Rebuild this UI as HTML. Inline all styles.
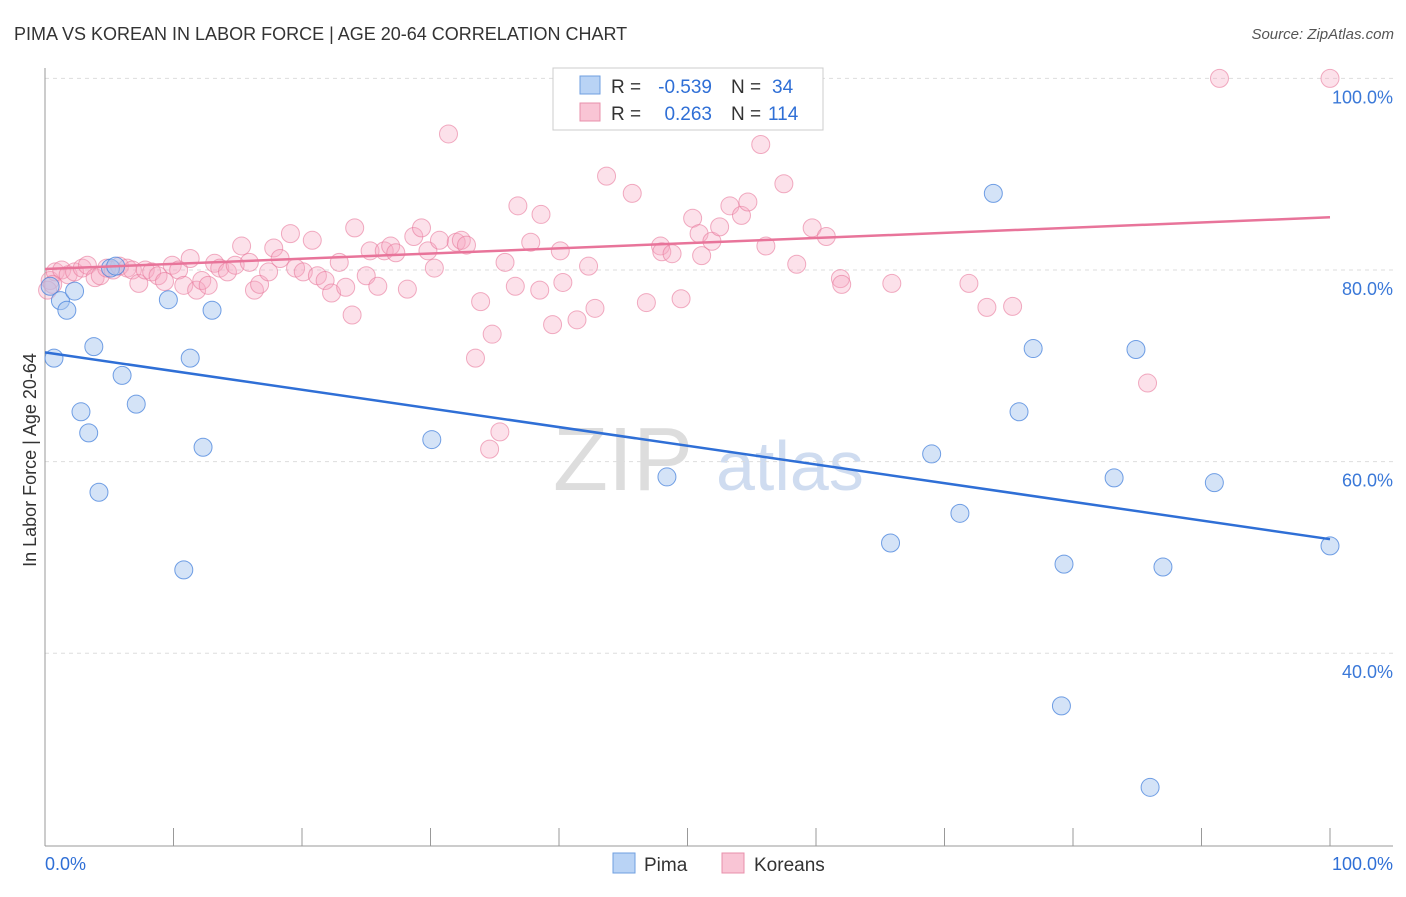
<!DOCTYPE html>
<html><head><meta charset="utf-8"><style>
body{margin:0;background:#fff;font-family:"Liberation Sans",sans-serif}
svg text{font-family:"Liberation Sans",sans-serif}
</style></head><body>
<svg id="c" width="1406" height="892">
<text x="14" y="40" font-size="18" fill="#333">PIMA VS KOREAN IN LABOR FORCE | AGE 20-64 CORRELATION CHART</text>
<text x="1394" y="39" font-size="15" fill="#555" text-anchor="end" font-style="italic">Source: ZipAtlas.com</text>
<text x="36" y="460" font-size="18" fill="#333" text-anchor="middle" transform="rotate(-90 36 460)">In Labor Force | Age 20-64</text>
<text x="553" y="490" font-size="90" fill="#ddd" font-family="Liberation Serif">ZIP</text>
<text x="716" y="490" font-size="70" fill="#cfdcf0">atlas</text>
<g id="grid"></g><g id="marks"></g>
<g>
<rect x="553" y="68" width="270" height="62" fill="#fff" stroke="#ccc"/>
<rect x="580" y="76" width="20" height="18" fill="#b9d3f5" stroke="#6f9fe0"/>
<rect x="580" y="103" width="20" height="18" fill="#f9c5d5" stroke="#e890ab"/>
<text x="611" y="93" font-size="19" fill="#333">R =</text>
<text x="712" y="93" font-size="19" fill="#2f6fd6" text-anchor="end">-0.539</text>
<text x="731" y="93" font-size="19" fill="#333">N =</text>
<text x="772" y="93" font-size="19" fill="#2f6fd6">34</text>
<text x="611" y="120" font-size="19" fill="#333">R =</text>
<text x="712" y="120" font-size="19" fill="#2f6fd6" text-anchor="end">0.263</text>
<text x="731" y="120" font-size="19" fill="#333">N =</text>
<text x="768" y="120" font-size="19" fill="#2f6fd6">114</text>
</g>
<g>
<rect x="613" y="853" width="22" height="20" fill="#b9d3f5" stroke="#6f9fe0"/>
<text x="644" y="871" font-size="19" fill="#333">Pima</text>
<rect x="722" y="853" width="22" height="20" fill="#f9c5d5" stroke="#e890ab"/>
<text x="754" y="871" font-size="19" fill="#333">Koreans</text>
</g>
<text x="45" y="870" font-size="18" fill="#2f6fd6">0.0%</text>
<text x="1393" y="870" font-size="18" fill="#2f6fd6" text-anchor="end">100.0%</text>
</svg>
<script>
const yTicks=[100,80,60,40];
const pimaX=[0.4,0.7,1.2,1.7,2.3,2.8,3.4,3.8,4.2,5.1,5.5,6.0,7.1,9.6,10.8,11.3,12.3,13.0,30.1,48.4,65.8,69.0,71.2,73.8,75.8,76.9,79.3,79.1,83.2,84.9,86.0,87.0,91.0,100];
const pimaY=[78.3,70.8,76.8,75.8,77.8,65.2,63.0,72.0,56.8,80.2,80.4,69.0,66.0,76.9,48.7,70.8,61.5,75.8,62.3,58.4,51.5,60.8,54.6,88.0,65.2,71.8,49.3,34.5,58.3,71.7,26.0,49.0,57.8,51.2];
const korX=[0.4,0.8,1.3,1.8,2.3,2.9,3.3,3.9,4.3,4.8,5.3,5.8,6.4,6.8,7.3,7.8,8.3,8.8,9.3,9.9,10.4,10.8,11.3,11.8,12.2,12.7,13.2,13.6,14.2,14.8,15.3,15.9,16.3,16.7,17.4,17.8,18.3,19.1,19.5,20.1,20.8,21.2,21.8,22.3,22.9,23.4,23.9,24.1,25.0,25.3,25.9,26.4,26.9,27.3,28.2,28.7,29.3,29.8,30.3,30.7,31.4,32.0,32.4,32.8,33.5,33.9,34.6,34.8,35.4,35.8,36.6,36.8,37.8,38.6,38.5,39.5,40.1,40.3,41.4,42.3,42.8,43.7,45.7,46.8,47.9,48.0,48.8,49.5,50.4,50.9,51.1,51.9,52.5,53.3,54.2,54.7,55.7,56.1,57.5,58.5,59.7,60.8,61.9,62.0,65.9,71.9,73.3,75.3,85.8,91.4,100,40.7,0.2,0.6];
const korY=[78.9,79.8,80.0,79.5,79.8,80.2,80.5,79.2,79.4,80.2,80.0,80.4,80.2,80.0,78.6,80.0,79.8,79.4,78.8,80.5,80.0,78.4,81.2,77.9,78.9,78.4,80.7,80.2,79.8,80.5,82.5,80.8,77.9,78.5,79.8,82.3,81.2,83.8,80.2,79.8,83.1,79.4,78.9,77.6,80.8,78.2,75.3,84.4,79.4,82.0,78.3,82.0,82.5,81.8,78.0,83.5,84.4,82.0,80.2,83.1,94.2,82.9,83.1,82.6,70.8,76.7,61.3,73.3,63.1,80.8,78.3,86.7,82.9,85.8,77.9,74.3,82.0,78.7,74.8,80.4,76.0,89.8,88.0,76.6,82.5,81.9,81.7,77.0,85.4,83.8,81.5,83.0,84.5,86.7,85.7,87.1,93.1,82.5,89.0,80.6,84.4,83.5,79.1,78.5,78.6,78.6,76.1,76.2,68.2,100,100,100,77.9,78.5];
const pimaLine=[71.4,51.9], korLine=[80.1,85.5];
const NS='http://www.w3.org/2000/svg';
const X=v=>45+v*12.85;
function yPix(v){return 270+(80-v)*9.58;}
function mk(t,a,p){const e=document.createElementNS(NS,t);for(const k in a)e.setAttribute(k,a[k]);p.appendChild(e);return e;}
const grid=document.getElementById('grid'),marks=document.getElementById('marks');
yTicks.forEach(t=>{
 const l=mk('line',{x1:45,x2:1393,y1:yPix(t),y2:yPix(t),stroke:'#ddd','stroke-dasharray':'4,4'},grid);
 
 
 const tx=mk('text',{x:1393,y:yPix(t)+25,'font-size':18,fill:'#3a78d8','text-anchor':'end'},grid);
 tx.textContent=t.toFixed(1)+'%';
 
 
});
mk('line',{x1:45,x2:45,y1:68,y2:846,stroke:'#999'},grid);
mk('line',{x1:45,x2:1393,y1:846,y2:846,stroke:'#999'},grid);
for(let i=1;i<=10;i++){const t=mk('line',{x1:X(i*10),x2:X(i*10),y1:828,y2:846,stroke:'#999'},grid);
 
 }
korX.forEach((x,i)=>{const c=mk('circle',{cx:X(x),cy:yPix(korY[i]),r:9,fill:'rgba(246,170,195,0.35)',stroke:'rgba(232,120,155,0.6)','stroke-width':1},marks);
 
 });
pimaX.forEach((x,i)=>{const c=mk('circle',{cx:X(x),cy:yPix(pimaY[i]),r:9,fill:'rgba(170,200,240,0.5)',stroke:'rgba(70,130,220,0.75)','stroke-width':1},marks);
 
 });
const kl=mk('line',{x1:X(0),x2:X(100),y1:yPix(korLine[0]),y2:yPix(korLine[1]),stroke:'#e8749a','stroke-width':2.5},marks);


const pl=mk('line',{x1:X(0),x2:X(100),y1:yPix(pimaLine[0]),y2:yPix(pimaLine[1]),stroke:'#2f6fd6','stroke-width':2.5},marks);


</script>
</body></html>
